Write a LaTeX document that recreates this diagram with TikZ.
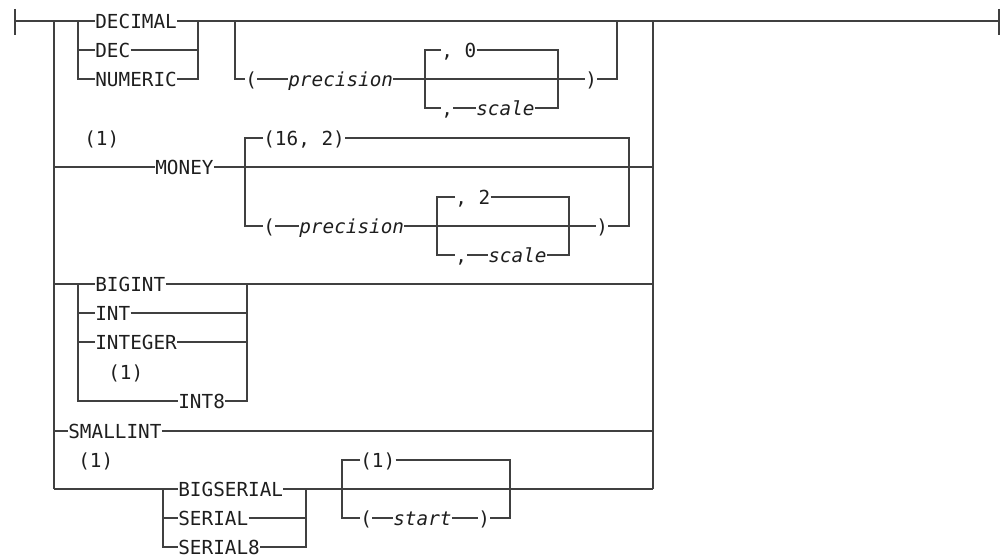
\documentclass[tikz,border=0pt]{standalone}
\usepackage{fontspec}
\setmainfont{DejaVu Sans Mono}
\usepackage{tikz}
\usetikzlibrary{positioning}
\definecolor{rrline}{RGB}{64,64,64}
\definecolor{rrtext}{RGB}{30,30,30}

\begin{document}
\begin{tikzpicture}[
  x=0.2mm, y=-0.2mm,
  rail/.style={draw=rrline, line width=0.6pt},
  tick/.style={draw=black, line width=1.1pt},
  kw/.style={anchor=west, inner sep=0pt, text height=8pt, text depth=0pt,
             text=rrtext, font=\fontsize{11}{13}\selectfont},
  var/.style={kw, font=\fontsize{11}{13}\selectfont\itshape}
]
\useasboundingbox (0,0) rectangle (1000,557);

% ---- X positions ----
\def\xL{54}    % left main rail
\def\xR{653}   % right main rail

% ---- Ends of the main line ----
\coordinate (start) at (15,21);
\coordinate (finish) at (999,21);
\draw[rail] (15,9) -- (15,35);
\draw[rail] (999,9) -- (999,35);
\draw[tick] (25,21) -- (31,21);
\draw[tick] (659,21) -- (683,21);

% ---- Main rails ----
\coordinate (L0) at (\xL,21);
\coordinate (L5) at (\xL,489);
\coordinate (R0) at (\xR,21);
\coordinate (R5) at (\xR,489);
\draw[rail] (L0) -- (L5);
\draw[rail] (R0) -- (R5);

% ----- DECIMAL / DEC / NUMERIC -----
\coordinate (a1) at (78,21);
\coordinate (b1) at (198,21);
\node[kw] (decimal) at (95,21) {DECIMAL};
\node[kw] (dec) at (95,50) {DEC};
\node[kw] (numeric) at (95,79) {NUMERIC};
\draw[rail] (start) -- (decimal.west);
\draw[rail] (decimal.east) -- (finish);
\draw[rail] (a1) |- (numeric.west);
\draw[rail] (dec.west -| a1) -- (dec.west);
\draw[rail] (numeric.east) -| (b1);
\draw[rail] (dec.east) -- (dec.east -| b1);

% optional (precision, scale)
\coordinate (c1) at (235,21);
\coordinate (d1) at (617,21);
\node[kw] (lpA) at (245,79) {(};
\node[var] (precA) at (288,79) {precision};
\node[kw] (rpA) at (585,79) {)};
\draw[rail] (c1) |- (lpA.west);
\draw[rail] (lpA.east) -- (precA.west);
\draw[rail] (precA.east) -- (rpA.west);
\draw[rail] (rpA.east) -| (d1);

\coordinate (e1) at (425,79);
\coordinate (f1) at (558,79);
\node[kw] (zeroA) at (441,50) {, 0};
\node[kw] (commaA) at (441,108) {,};
\node[var] (scaleA) at (476,108) {scale};
\draw[rail] (zeroA.west) -| (e1) |- (commaA.west);
\draw[rail] (commaA.east) -- (scaleA.west);
\draw[rail] (zeroA.east) -| (f1);
\draw[rail] (scaleA.east) -| (f1);

% ----- MONEY -----
\node[kw] (note1) at (84,138) {(1)};
\coordinate (L2) at (\xL,167);
\coordinate (R2) at (\xR,167);
\node[kw] (money) at (155,167) {MONEY};
\draw[rail] (L2) -- (money.west);
\draw[rail] (money.east) -- (R2);

\coordinate (g1) at (245,167);
\coordinate (h1) at (629,167);
\node[kw] (sixteen) at (263,138) {(16, 2)};
\node[kw] (lpB) at (263,226) {(};
\node[var] (precB) at (299,226) {precision};
\node[kw] (rpB) at (596,226) {)};
\draw[rail] (sixteen.west) -| (g1) |- (lpB.west);
\draw[rail] (sixteen.east) -| (h1) |- (rpB.east);
\draw[rail] (lpB.east) -- (precB.west);
\draw[rail] (precB.east) -- (rpB.west);

\coordinate (e2) at (437,226);
\coordinate (f2) at (569,226);
\node[kw] (twoB) at (455,197) {, 2};
\node[kw] (commaB) at (455,255) {,};
\node[var] (scaleB) at (488,255) {scale};
\draw[rail] (twoB.west) -| (e2) |- (commaB.west);
\draw[rail] (commaB.east) -- (scaleB.west);
\draw[rail] (twoB.east) -| (f2);
\draw[rail] (scaleB.east) -| (f2);

% ----- BIGINT / INT / INTEGER / INT8 -----
\coordinate (L3) at (\xL,284);
\coordinate (R3) at (\xR,284);
\coordinate (a4) at (78,284);
\coordinate (b4) at (247,284);
\node[kw] (bigint) at (95,284) {BIGINT};
\node[kw] (int) at (95,313) {INT};
\node[kw] (integer) at (95,342) {INTEGER};
\node[kw] (note2) at (108,372) {(1)};
\node[kw] (inteight) at (178,401) {INT8};
\draw[rail] (L3) -- (bigint.west);
\draw[rail] (bigint.east) -- (R3);
\draw[rail] (a4) |- (inteight.west);
\draw[rail] (int.west -| a4) -- (int.west);
\draw[rail] (integer.west -| a4) -- (integer.west);
\draw[rail] (inteight.east) -| (b4);
\draw[rail] (int.east) -- (int.east -| b4);
\draw[rail] (integer.east) -- (integer.east -| b4);

% ----- SMALLINT -----
\coordinate (L4) at (\xL,431);
\coordinate (R4) at (\xR,431);
\node[kw] (smallint) at (68,431) {SMALLINT};
\draw[rail] (L4) -- (smallint.west);
\draw[rail] (smallint.east) -- (R4);

% ----- BIGSERIAL / SERIAL / SERIAL8 -----
\node[kw] (note3) at (78,460) {(1)};
\coordinate (a6) at (163,489);
\coordinate (b6) at (306,489);
\node[kw] (bigserial) at (178,489) {BIGSERIAL};
\node[kw] (serial) at (178,518) {SERIAL};
\node[kw] (serialeight) at (178,547) {SERIAL8};
\draw[rail] (L5) -- (bigserial.west);
\draw[rail] (bigserial.east) -- (R5);
\draw[rail] (a6) |- (serialeight.west);
\draw[rail] (serial.west -| a6) -- (serial.west);
\draw[rail] (serialeight.east) -| (b6);
\draw[rail] (serial.east) -- (serial.east -| b6);

% optional (start)
\coordinate (k1) at (342,489);
\coordinate (m1) at (510,489);
\node[kw] (one) at (360,460) {(1)};
\node[kw] (lpC) at (360,518) {(};
\node[var] (startC) at (393,518) {start};
\node[kw] (rpC) at (478,518) {)};
\draw[rail] (one.west) -| (k1) |- (lpC.west);
\draw[rail] (one.east) -| (m1) |- (rpC.east);
\draw[rail] (lpC.east) -- (startC.west);
\draw[rail] (startC.east) -- (rpC.west);

\end{tikzpicture}
\end{document}
